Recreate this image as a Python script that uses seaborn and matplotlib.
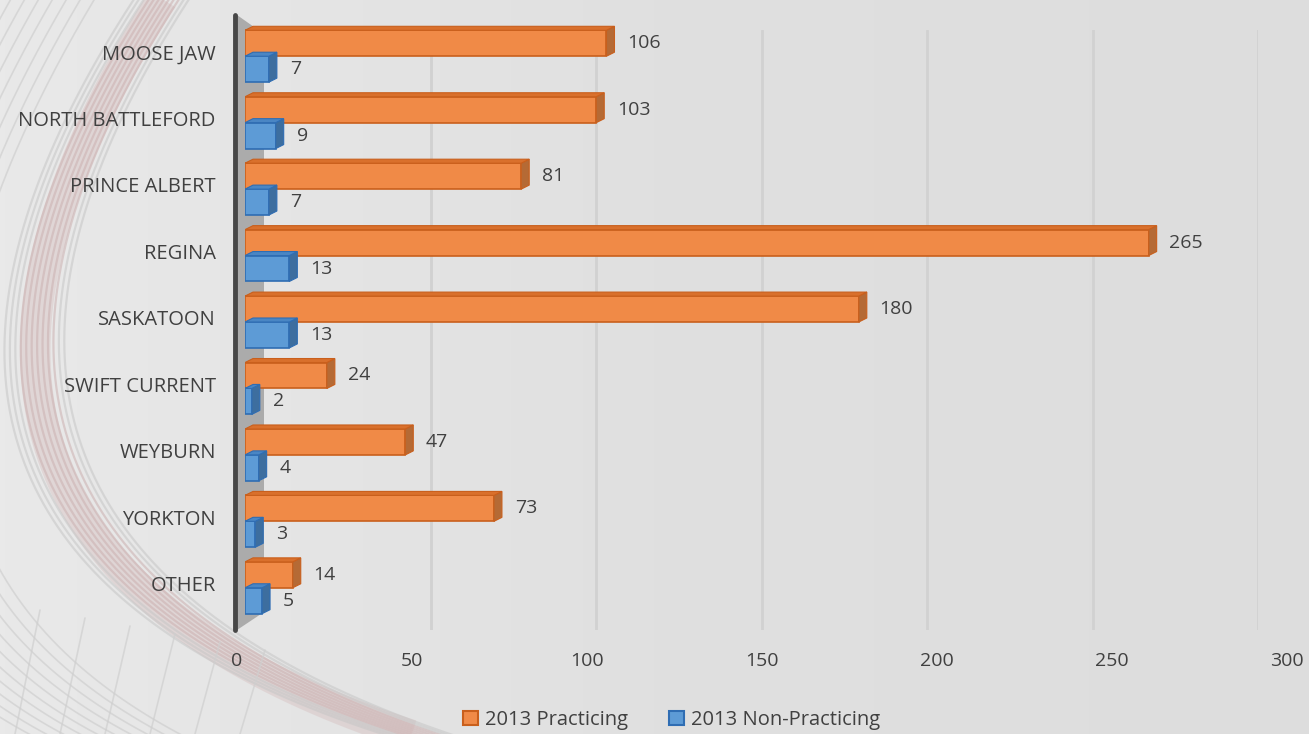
import numpy as np
import pandas as pd
import matplotlib
matplotlib.use("Agg")
import matplotlib.pyplot as plt
from matplotlib.patches import Polygon
from matplotlib.colors import LinearSegmentedColormap
from matplotlib.transforms import ScaledTranslation
import seaborn as sns

# ---- data -------------------------------------------------------------
cities = ["MOOSE JAW", "NORTH BATTLEFORD", "PRINCE ALBERT", "REGINA", "SASKATOON",
          "SWIFT CURRENT", "WEYBURN", "YORKTON", "OTHER"]
practicing = [106, 103, 81, 265, 180, 24, 47, 73, 14]
non_practicing = [7, 9, 7, 13, 13, 2, 4, 3, 5]
series_names = ["2013 Practicing", "2013 Non-Practicing"]
x_ticks = [0, 50, 100, 150, 200, 250, 300]

# ---- style ------------------------------------------------------------
W, H = 1309, 734
sns.set_theme(style="white")
plt.rcParams["font.family"] = ["Open Sans", "DejaVu Sans"]
TEXT = "#404040"
FACE = ["#F08A47", "#5D9BD6"]
EDGE = ["#C95F1C", "#2F6DB3"]
SIDE = ["#B56A35", "#3D6E9F"]
TOP = ["#D9702C", "#4A86C4"]

df = pd.DataFrame({
    "city": cities * 2,
    "count": practicing + non_practicing,
    "series": [series_names[0]] * len(cities) + [series_names[1]] * len(cities),
})


def box(x0, y0, x1, y1):
    """Axes rectangle from a pixel box (origin top-left)."""
    return [x0 / W, 1 - y1 / H, (x1 - x0) / W, (y1 - y0) / H]


fig = plt.figure(figsize=(W / 100, H / 100), dpi=100)
fig.patch.set_facecolor("#e2e2e2")

# ---- decorative background ---------------------------------------------
bg = fig.add_axes([0, 0, 1, 1], zorder=-2)
bg.set_xlim(0, W)
bg.set_ylim(H, 0)
bg.axis("off")
grad = np.linspace(0, 1, 256)[None, :]
cmap = LinearSegmentedColormap.from_list("bgfade", ["#e9e9e9", "#e0e0e0", "#dddddd"])
bg.imshow(grad, extent=[0, W, H, 0], aspect="auto", cmap=cmap, zorder=0)


def bez(p0, p1, p2, n=300):
    t = np.linspace(0, 1, n)[:, None]
    p0, p1, p2 = map(np.asarray, (p0, p1, p2))
    return (1 - t) ** 2 * p0 + 2 * (1 - t) * t * p1 + t ** 2 * p2


# sweeping band of fine lines down the left side
pts = bez((168, -10), (-235, 612), (585, 780))
bg.plot(pts[:, 0], pts[:, 1], color="#d2b6b6", lw=22, alpha=0.35, zorder=1,
        solid_capstyle="butt")
for i in range(12):
    o = i * 5
    pts = bez((140 + o, -10), (-270 + o * 1.2, 610 - o * 0.3), (560 + o, 780))
    col = "#cbb0b0" if 3 <= i <= 9 else "#c6c6c6"
    bg.plot(pts[:, 0], pts[:, 1], color=col, lw=1.6, alpha=0.55, zorder=1)
# outer fan of faint grey lines
for i in range(10):
    o = i * 14
    pts = bez((100 - o, -10), (-300 - o, 650 + o * 0.5), (420 - o * 0.8, 820))
    bg.plot(pts[:, 0], pts[:, 1], color="#cbcbcb", lw=1.2, alpha=0.6, zorder=1)
# lower-left cross lines
for i in range(6):
    xs = 40 + i * 45
    bg.plot([xs, xs - 25], [610 + i * 8, H], color="#cfcfcf", lw=1.2, alpha=0.7, zorder=1)

# axis wall and axis line
wall = Polygon([(237, 15), (264, 34), (264, 612), (237, 630)], closed=True,
               facecolor="#ababab", edgecolor="none", zorder=2)
bg.add_patch(wall)
bg.plot([235, 235], [15, 630], color="#474747", lw=3.5, solid_capstyle="round", zorder=3)

# ---- back-wall gridlines -------------------------------------------------
gx = fig.add_axes(box(265, 30, 1258, 630), zorder=-1)
gx.set_xlim(x_ticks[0], x_ticks[-1])
gx.axis("off")
for t in x_ticks[1:]:
    gx.axvline(t, color="#d1d1d1", lw=2)

# ---- bars ---------------------------------------------------------------
ax = fig.add_axes(box(245, 23, 1268, 621), zorder=2)
ax.patch.set_alpha(0)
sns.barplot(data=df, y="city", x="count", hue="series", palette=FACE,
            width=0.78, ax=ax, saturation=1)
ax.set_xlim(x_ticks[0], x_ticks[-1])
ax.set_ylim(len(cities) - 0.5, -0.5)

# depth of the bar blocks, converted from pixels to data units
pos = ax.get_position()
ppx = (x_ticks[-1] - x_ticks[0]) / (pos.width * W)
ppy = len(cities) / (pos.height * H)
dx, dy = 8 * ppx, 4 * ppy

for k, container in enumerate(ax.containers):
    for bar in container:
        bar.set_edgecolor(EDGE[k])
        bar.set_linewidth(1.2)
        x0, y0 = bar.get_x(), bar.get_y()
        w, h = bar.get_width(), bar.get_height()
        side = Polygon([(x0 + w, y0), (x0 + w + dx, y0 - dy),
                        (x0 + w + dx, y0 + h - dy), (x0 + w, y0 + h)],
                       facecolor=SIDE[k], edgecolor=EDGE[k], lw=0.8, zorder=3)
        top = Polygon([(x0, y0), (x0 + dx, y0 - dy), (x0 + w + dx, y0 - dy),
                       (x0 + w, y0)],
                      facecolor=TOP[k], edgecolor=EDGE[k], lw=0.8, zorder=3)
        ax.add_patch(side)
        ax.add_patch(top)
    ax.bar_label(container, padding=15, fontsize=14, color=TEXT)

for s in ax.spines.values():
    s.set_visible(False)
ax.set_xticks([])
ax.set_xlabel("")
ax.set_ylabel("")
ax.tick_params(axis="y", length=0, pad=21, labelsize=14.5, labelcolor=TEXT)
lift = ScaledTranslation(0, 3 / 72, fig.dpi_scale_trans)
for lab in ax.get_yticklabels():
    lab.set_transform(lab.get_transform() + lift)

# ---- value axis labels ----------------------------------------------------
tx = fig.add_axes(box(237, 648, 1287, 649), zorder=1)
tx.patch.set_alpha(0)
tx.set_xlim(x_ticks[0], x_ticks[-1])
tx.set_xticks(x_ticks)
tx.set_xticklabels([str(t) for t in x_ticks])
tx.set_yticks([])
for s in tx.spines.values():
    s.set_visible(False)
tx.tick_params(axis="x", length=0, pad=2, labelsize=14, labelcolor=TEXT)

# ---- legend -------------------------------------------------------------
handles, labels = ax.get_legend_handles_labels()
ax.get_legend().remove()
for k, hd in enumerate(handles):
    hd.set_facecolor(FACE[k])
    hd.set_edgecolor(EDGE[k])
    hd.set_linewidth(1.5)
leg = fig.legend(handles, labels, loc="center", bbox_to_anchor=(0.513, 0.019),
                 ncol=2, frameon=False, fontsize=14.5, handlelength=0.75,
                 handleheight=0.75, handletextpad=0.35, columnspacing=2.0)
for t in leg.get_texts():
    t.set_color(TEXT)

fig.savefig("out.png", dpi=100, facecolor=fig.get_facecolor())
